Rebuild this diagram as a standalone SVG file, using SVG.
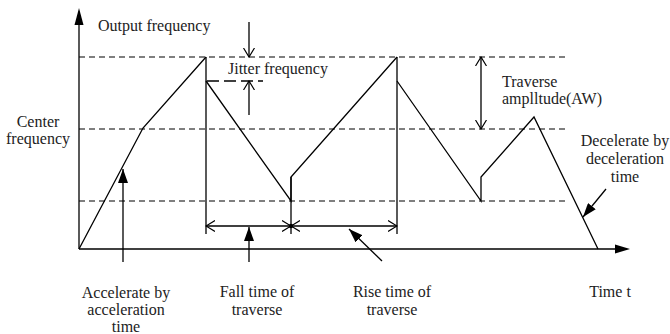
<svg xmlns="http://www.w3.org/2000/svg" width="670" height="334" viewBox="0 0 670 334">
<style>
.ln{stroke:#000;stroke-width:1.3;fill:none}
.ds{stroke:#000;stroke-width:1.2;fill:none;stroke-dasharray:6,4}
.t{font-family:"Liberation Serif","Times New Roman",Times,serif;font-size:16px;fill:#222}
.m{text-anchor:middle}
</style>
<defs>
<marker id="fa" markerWidth="14" markerHeight="10" refX="14" refY="5" orient="auto" markerUnits="userSpaceOnUse">
<path d="M0,0 L14,5 L0,10 Z" fill="#000"/>
</marker>
<marker id="oa" markerWidth="10" markerHeight="12" refX="9" refY="6" orient="auto" markerUnits="userSpaceOnUse">
<path d="M0,0.5 L9,6 L0,11.5" fill="none" stroke="#000" stroke-width="1.2"/>
</marker>
<marker id="oas" markerWidth="10" markerHeight="12" refX="9" refY="6" orient="auto-start-reverse" markerUnits="userSpaceOnUse">
<path d="M0,0.5 L9,6 L0,11.5" fill="none" stroke="#000" stroke-width="1.2"/>
</marker>
</defs>

<g id="axes">
<line class="ln" x1="79" y1="249" x2="79" y2="24"/>
<path d="M79,8 L74.5,25 L83.5,25 Z" fill="#000"/>
<line class="ln" x1="79" y1="249" x2="616" y2="249"/>
<path d="M630,249 L615,244.5 L615,253.5 Z" fill="#000"/>
</g>

<g id="levels">
<line class="ds" x1="79" y1="57" x2="567" y2="57"/>
<line class="ds" x1="79" y1="129" x2="567" y2="129"/>
<line class="ds" x1="79" y1="201" x2="567" y2="201"/>
<line class="ln" x1="207" y1="81" x2="263" y2="81" stroke-dasharray="12,5"/>
</g>

<g id="waveform">
<polyline class="ln" points="79,249 143,128 206,57"/>
<line class="ln" x1="206" y1="57" x2="206" y2="234"/>
<polyline class="ln" points="206,81 291,201 291,177 397,57"/>
<line class="ln" x1="291" y1="177" x2="291" y2="234"/>
<line class="ln" x1="397" y1="57" x2="397" y2="234"/>
<polyline class="ln" points="397,81 481,201 481,177 534,117 598,249"/>
</g>

<g id="connectors">
<line class="ln" x1="249" y1="22" x2="249" y2="57" marker-end="url(#oa)"/>
<line class="ln" x1="249" y1="115" x2="249" y2="81" marker-end="url(#oa)"/>
<line class="ln" x1="481" y1="57" x2="481" y2="129" marker-start="url(#oas)" marker-end="url(#oa)"/>
<line class="ln" x1="206" y1="226" x2="291" y2="226" marker-start="url(#oas)" marker-end="url(#oa)"/>
<line class="ln" x1="291" y1="226" x2="397" y2="226" marker-start="url(#oas)" marker-end="url(#oa)"/>
<circle cx="291" cy="226" r="2.2" fill="#000"/>
<line class="ln" x1="123" y1="262" x2="123" y2="169" marker-end="url(#fa)"/>
<line class="ln" x1="249" y1="262" x2="249" y2="227" marker-end="url(#fa)"/>
<line class="ln" x1="382" y1="261" x2="349" y2="229" marker-end="url(#fa)"/>
<line class="ln" x1="606" y1="189" x2="583" y2="217" marker-end="url(#fa)"/>
</g>

<g id="label-output"><text class="t" x="98" y="31">Output frequency</text></g>
<g id="label-jitter"><text class="t" x="228" y="74">Jitter frequency</text></g>
<g id="label-amplitude"><text class="t" x="502" y="87">Traverse</text><text class="t" x="502" y="104">amplltude(AW)</text></g>
<g id="label-center"><text class="t m" x="38" y="127">Center</text><text class="t m" x="38" y="144">frequency</text></g>
<g id="label-decel"><text class="t m" x="625" y="146">Decelerate by</text><text class="t m" x="625" y="164">deceleration</text><text class="t m" x="625" y="182">time</text></g>
<g id="label-accel"><text class="t m" x="126" y="298">Accelerate by</text><text class="t m" x="126" y="315">acceleration</text><text class="t m" x="126" y="332">time</text></g>
<g id="label-fall"><text class="t m" x="257" y="297">Fall time of</text><text class="t m" x="257" y="315">traverse</text></g>
<g id="label-rise"><text class="t m" x="392" y="297">Rise time of</text><text class="t m" x="392" y="315">traverse</text></g>
<g id="label-time"><text class="t m" x="610" y="297">Time t</text></g>
</svg>
